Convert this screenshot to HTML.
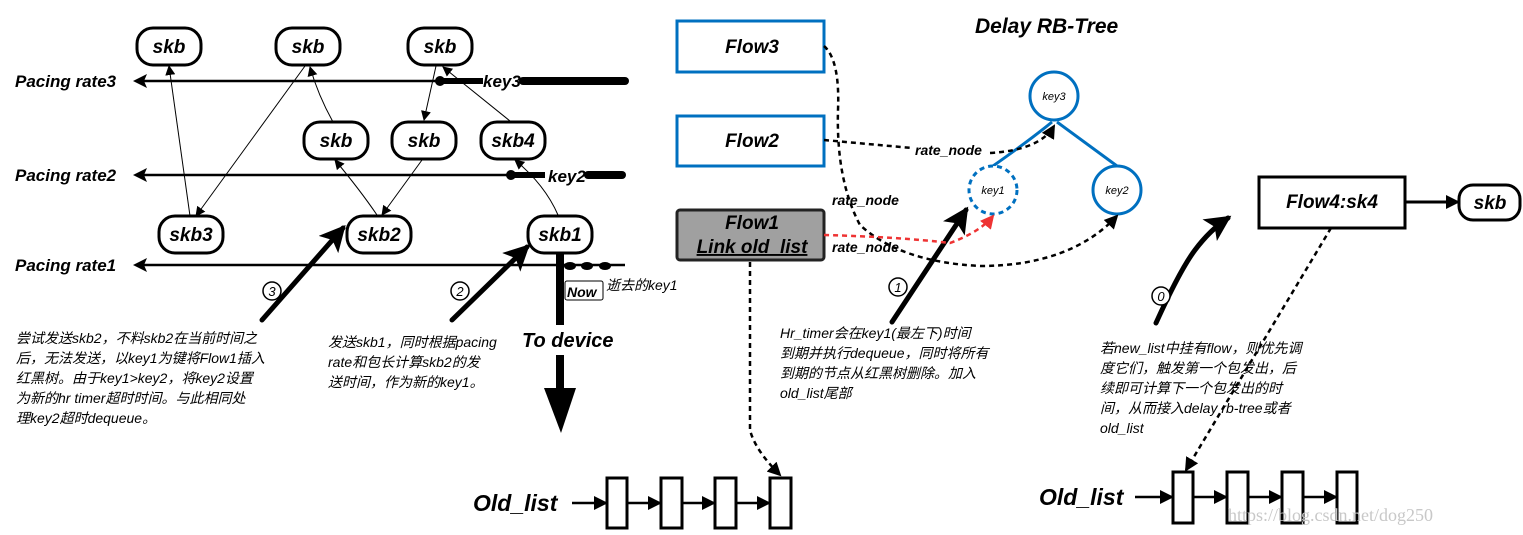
<!DOCTYPE html>
<html><head><meta charset="utf-8"><style>
html,body{margin:0;padding:0;background:#fff}
svg{display:block}
.h{font-family:"Liberation Sans",sans-serif;font-style:italic;font-weight:bold}
.c{font-family:"Liberation Sans","Noto Sans CJK SC",sans-serif;font-size:14px;font-style:italic}
</style></head><body>
<svg width="1523" height="535" viewBox="0 0 1523 535" xmlns="http://www.w3.org/2000/svg">
<defs>
<marker id="a" markerWidth="10" markerHeight="10" refX="9" refY="5" orient="auto" markerUnits="userSpaceOnUse"><path d="M0,0 L10,5 L0,10z" fill="#000"/></marker>
<marker id="ab" markerWidth="14" markerHeight="14" refX="12" refY="7" orient="auto" markerUnits="userSpaceOnUse"><path d="M0,0 L14,7 L0,14z" fill="#000"/></marker>
<marker id="ar" markerWidth="14" markerHeight="14" refX="12" refY="7" orient="auto" markerUnits="userSpaceOnUse"><path d="M0,0 L14,7 L0,14z" fill="#e33"/></marker>
<marker id="aT" markerWidth="26" markerHeight="26" refX="22" refY="13" orient="auto" markerUnits="userSpaceOnUse"><path d="M0,0 L26,13 L0,26 L6,13z" fill="#000"/></marker>
</defs>

<!-- pacing lines -->
<g stroke="#000" fill="none">
<line x1="140" y1="81" x2="440" y2="81" stroke-width="2.5"/>
<line x1="440" y1="81" x2="483" y2="81" stroke-width="6"/>
<line x1="523" y1="81" x2="625" y2="81" stroke-width="8" stroke-linecap="round"/>
<line x1="140" y1="175" x2="511" y2="175" stroke-width="2.5"/>
<line x1="511" y1="175" x2="545" y2="175" stroke-width="6"/>
<line x1="588" y1="175" x2="622" y2="175" stroke-width="8" stroke-linecap="round"/>
<line x1="140" y1="265" x2="625" y2="265" stroke-width="2.5"/>
</g>
<circle cx="440" cy="81" r="5"/><circle cx="511" cy="175" r="5"/>
<ellipse cx="570" cy="266" rx="6" ry="4"/><ellipse cx="587" cy="266" rx="6" ry="4"/><ellipse cx="605" cy="266" rx="6" ry="4"/>
<path d="M133,81 L147,74 L144,81 L147,88z"/><path d="M133,175 L147,168 L144,175 L147,182z"/><path d="M133,265 L147,258 L144,265 L147,272z"/>
<text class="h" x="483" y="87" font-size="17" font-weight="normal">key3</text>
<text class="h" x="548" y="182" font-size="17" font-weight="normal">key2</text>
<g class="h" font-size="17" font-weight="normal">
<text x="15" y="87">Pacing rate3</text><text x="15" y="181">Pacing rate2</text><text x="15" y="271">Pacing rate1</text>
</g>

<!-- thin arrows -->
<g stroke="#000" stroke-width="1" fill="none" marker-end="url(#a)">
<line x1="190" y1="216" x2="169" y2="66"/>
<line x1="305" y1="66" x2="196" y2="216"/>
<path d="M333,122 Q318,95 310,67"/>
<line x1="436" y1="66" x2="424" y2="120"/>
<line x1="510" y1="121" x2="443" y2="67"/>
<path d="M377,215 Q360,190 335,160"/>
<line x1="422" y1="160" x2="382" y2="215"/>
<path d="M558,215 Q545,185 515,160"/>
</g>

<!-- skb nodes -->
<g stroke="#000" stroke-width="3" fill="#fff">
<rect x="137" y="28" width="64" height="37" rx="16"/>
<rect x="276" y="28" width="64" height="37" rx="16"/>
<rect x="408" y="28" width="64" height="37" rx="16"/>
<rect x="304" y="122" width="64" height="37" rx="16"/>
<rect x="392" y="122" width="64" height="37" rx="16"/>
<rect x="481" y="122" width="64" height="37" rx="16"/>
<rect x="159" y="216" width="64" height="37" rx="16"/>
<rect x="347" y="216" width="64" height="37" rx="16"/>
<rect x="528" y="216" width="64" height="37" rx="16"/>
<rect x="1459" y="185" width="61" height="35" rx="14"/>
</g>
<g class="h" font-size="19" text-anchor="middle">
<text x="169" y="53">skb</text><text x="308" y="53">skb</text><text x="440" y="53">skb</text>
<text x="336" y="147">skb</text><text x="424" y="147">skb</text><text x="513" y="147">skb4</text>
<text x="191" y="241">skb3</text><text x="379" y="241">skb2</text><text x="560" y="241">skb1</text>
<text x="1490" y="209">skb</text>
</g>

<!-- To device -->
<line x1="560" y1="253" x2="560" y2="325" stroke="#000" stroke-width="8"/>
<line x1="560" y1="355" x2="560" y2="390" stroke="#000" stroke-width="8"/>
<path d="M544,388 L576,388 L561,433z"/>
<rect x="565" y="281" width="38" height="19" fill="#fff" stroke="#000" stroke-width="1" rx="2"/>
<text class="h" x="567" y="297" font-size="14" font-weight="normal">Now</text>
<text class="c" x="606" y="290" font-style="normal" font-size="13">逝去的<tspan font-style="italic">key1</tspan></text>
<text class="h" x="522" y="347" font-size="20">To device</text>

<!-- big arrows -->
<g stroke="#000" stroke-width="5" fill="none" marker-end="url(#aT)" stroke-linecap="round">
<line x1="262" y1="320" x2="343" y2="228"/>
<line x1="452" y1="320" x2="527" y2="247"/>
<line x1="892" y1="322" x2="966" y2="210"/>
<path d="M1156,323 Q1180,270 1195,250 Q1210,230 1228,218"/>
</g>
<g fill="#fff" stroke="#000" stroke-width="1.5">
<circle cx="272" cy="291" r="9"/><circle cx="460" cy="291" r="9"/><circle cx="898" cy="287" r="9"/><circle cx="1161" cy="296" r="9"/>
</g>
<g font-family="Liberation Sans,sans-serif" font-style="italic" font-size="13" text-anchor="middle">
<text x="272" y="296">3</text><text x="460" y="296">2</text><text x="898" y="292">1</text><text x="1161" y="301">0</text>
</g>

<!-- Chinese text blocks -->
<g class="c">
<text x="16" y="343">尝试发送skb2，不料skb2在当前时间之</text>
<text x="16" y="363">后，无法发送，以key1为键将Flow1插入</text>
<text x="16" y="383">红黑树。由于key1&gt;key2，将key2设置</text>
<text x="16" y="403">为新的hr timer超时时间。与此相同处</text>
<text x="16" y="423">理key2超时dequeue。</text>
<text x="328" y="347">发送skb1，同时根据pacing</text>
<text x="328" y="367">rate和包长计算skb2的发</text>
<text x="328" y="387">送时间，作为新的key1。</text>
<text x="780" y="338">Hr_timer会在key1(最左下)时间</text>
<text x="780" y="358">到期并执行dequeue，同时将所有</text>
<text x="780" y="378">到期的节点从红黑树删除。加入</text>
<text x="780" y="398">old_list尾部</text>
<text x="1100" y="353">若new_list中挂有flow，则优先调</text>
<text x="1100" y="373">度它们，触发第一个包发出，后</text>
<text x="1100" y="393">续即可计算下一个包发出的时</text>
<text x="1100" y="413">间，从而接入delay rb-tree或者</text>
<text x="1100" y="433">old_list</text>
</g>

<!-- Flow boxes -->
<rect x="677" y="21" width="147" height="51" fill="#fff" stroke="#0070c0" stroke-width="3"/>
<rect x="677" y="116" width="147" height="50" fill="#fff" stroke="#0070c0" stroke-width="3"/>
<rect x="677" y="210" width="147" height="50" fill="#a0a0a0" stroke="#222" stroke-width="3" rx="3"/>
<g class="h" font-size="19" text-anchor="middle">
<text x="752" y="53">Flow3</text><text x="752" y="147">Flow2</text>
<text x="752" y="229">Flow1</text><text x="752" y="253" text-decoration="underline">Link old_list</text>
</g>
<text class="h" x="975" y="33" font-size="21">Delay RB-Tree</text>

<!-- tree -->
<g stroke="#0070c0" stroke-width="3" fill="none">
<path d="M993,166 Q1030,140 1052,122"/><line x1="1057" y1="122" x2="1117" y2="166"/>
<circle cx="1054" cy="96" r="24" fill="#fff"/>
<circle cx="993" cy="190" r="24" fill="#fff" stroke-dasharray="5,4"/>
<circle cx="1117" cy="190" r="24" fill="#fff"/>
</g>
<g font-family="Liberation Sans,sans-serif" font-style="italic" font-size="11" text-anchor="middle">
<text x="1054" y="100">key3</text><text x="993" y="194">key1</text><text x="1117" y="194">key2</text>
</g>

<!-- dashed connectors -->
<g fill="none" stroke="#000" stroke-width="2.5" stroke-dasharray="5,4">
<path d="M824,140 L912,148 M990,153 Q1040,150 1054,126" marker-end="url(#ab)"/>
<path d="M824,46 Q840,60 838,110 Q836,180 860,225 Q900,262 980,266 Q1070,266 1117,216" marker-end="url(#ab)"/>
<path d="M750,262 L750,430 Q755,450 780,475" marker-end="url(#ab)"/>
<path d="M1331,228 L1186,470" marker-end="url(#ab)"/>
</g>
<path d="M824,235 Q900,237 950,243 Q980,232 993,216" fill="none" stroke="#e33" stroke-width="2.5" stroke-dasharray="5,4" marker-end="url(#ar)"/>
<g class="h" font-size="14">
<text x="915" y="155">rate_node</text><text x="832" y="205">rate_node</text><text x="832" y="252">rate_node</text>
</g>

<!-- Flow4 -->
<rect x="1259" y="177" width="146" height="51" fill="#fff" stroke="#000" stroke-width="3"/>
<text class="h" x="1332" y="208" font-size="19" text-anchor="middle">Flow4:sk4</text>
<line x1="1405" y1="202" x2="1458" y2="202" stroke="#000" stroke-width="3" marker-end="url(#ab)"/>

<!-- old lists -->
<g stroke="#000" stroke-width="3" fill="#fff">
<rect x="607" y="478" width="20" height="50"/><rect x="661" y="478" width="21" height="50"/><rect x="715" y="478" width="21" height="50"/><rect x="770" y="478" width="21" height="50"/>
<rect x="1173" y="472" width="20" height="51"/><rect x="1227" y="472" width="21" height="51"/><rect x="1282" y="472" width="21" height="51"/><rect x="1337" y="472" width="20" height="51"/>
</g>
<g stroke="#000" stroke-width="2.5" marker-end="url(#ab)">
<line x1="572" y1="503" x2="606" y2="503"/><line x1="627" y1="503" x2="660" y2="503"/><line x1="682" y1="503" x2="714" y2="503"/><line x1="736" y1="503" x2="769" y2="503"/>
<line x1="1135" y1="497" x2="1172" y2="497"/><line x1="1193" y1="497" x2="1226" y2="497"/><line x1="1248" y1="497" x2="1281" y2="497"/><line x1="1303" y1="497" x2="1336" y2="497"/>
</g>
<text class="h" x="473" y="511" font-size="23" font-weight="normal">Old_list</text>
<text class="h" x="1039" y="505" font-size="23" font-weight="normal">Old_list</text>
<text x="1228" y="521" font-family="Liberation Serif,serif" font-size="18" fill="#c8c8c8">https://blog.csdn.net/dog250</text>
</svg>
</body></html>
